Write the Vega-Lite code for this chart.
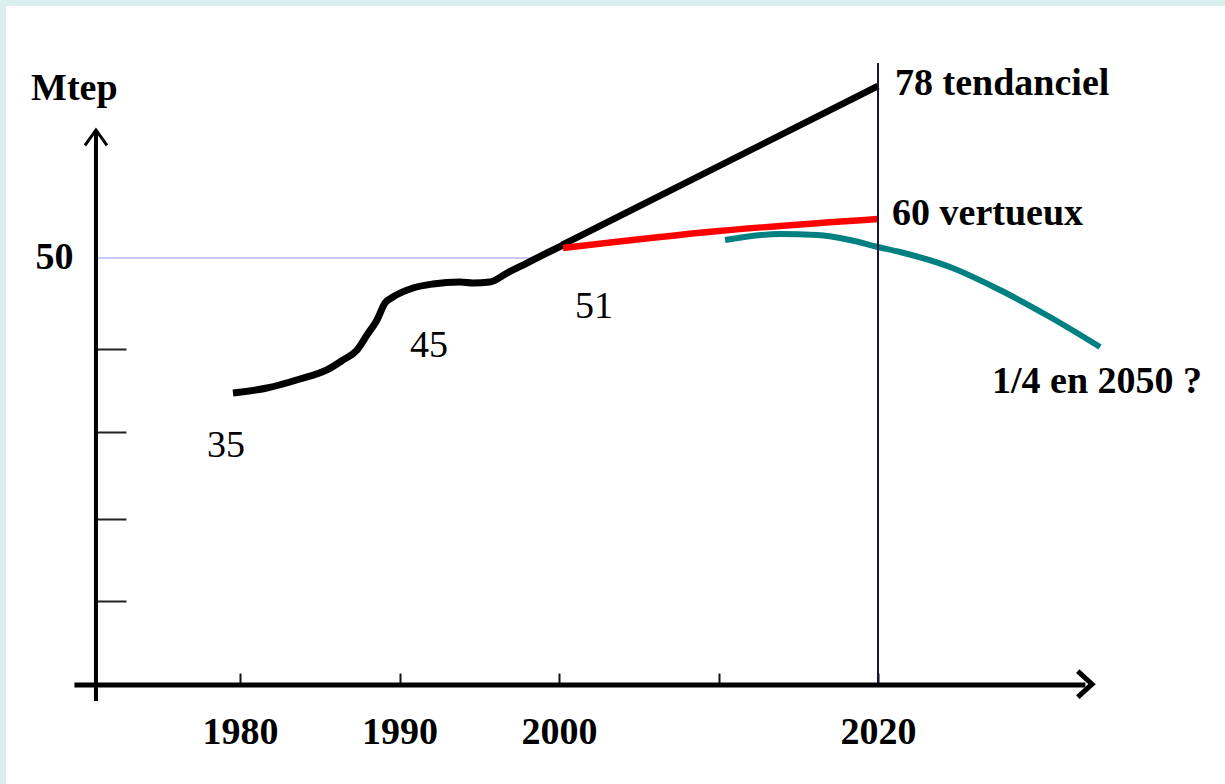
{
  "$schema": "https://vega.github.io/schema/vega-lite/v6.json",
  "width": 1219,
  "height": 778,
  "autosize": {"type": "none"},
  "padding": {"left": 6, "top": 6, "right": 0, "bottom": 0},
  "background": "#d9f0ef",
  "config": {
    "view": {"fill": "white", "stroke": null},
    "axis": {"grid": false, "domain": false}
  },
  "datasets": {
    "courbes": [
      {"serie": "historique", "an": 1979.56, "val": 34.19},
      {"serie": "historique", "an": 1981.69, "val": 34.78},
      {"serie": "historique", "an": 1983.76, "val": 35.83},
      {"serie": "historique", "an": 1985.45, "val": 36.89},
      {"serie": "historique", "an": 1986.46, "val": 38.06},
      {"serie": "historique", "an": 1987.34, "val": 39.23},
      {"serie": "historique", "an": 1987.96, "val": 40.98},
      {"serie": "historique", "an": 1988.59, "val": 42.74},
      {"serie": "historique", "an": 1989.09, "val": 44.73},
      {"serie": "historique", "an": 1989.59, "val": 45.43},
      {"serie": "historique", "an": 1990.85, "val": 46.49},
      {"serie": "historique", "an": 1992.10, "val": 46.96},
      {"serie": "historique", "an": 1993.79, "val": 47.19},
      {"serie": "historique", "an": 1994.61, "val": 47.07},
      {"serie": "historique", "an": 1995.67, "val": 47.19},
      {"serie": "historique", "an": 1996.74, "val": 48.24},
      {"serie": "historique", "an": 1997.99, "val": 49.41},
      {"serie": "historique", "an": 1999.25, "val": 50.59},
      {"serie": "historique", "an": 2000.25, "val": 51.52},
      {"serie": "tendanciel", "an": 2000.19, "val": 51.52},
      {"serie": "tendanciel", "an": 2020.0, "val": 70.14},
      {"serie": "vertueux", "an": 2000.25, "val": 51.17},
      {"serie": "vertueux", "an": 2010.03, "val": 53.16},
      {"serie": "vertueux", "an": 2020.0, "val": 54.57},
      {"serie": "facteur4", "an": 2010.41, "val": 52.11},
      {"serie": "facteur4", "an": 2013.86, "val": 52.81},
      {"serie": "facteur4", "an": 2016.18, "val": 52.69},
      {"serie": "facteur4", "an": 2018.24, "val": 52.11},
      {"serie": "facteur4", "an": 2020.0, "val": 51.29},
      {"serie": "facteur4", "an": 2021.38, "val": 50.70},
      {"serie": "facteur4", "an": 2024.51, "val": 48.95},
      {"serie": "facteur4", "an": 2027.65, "val": 46.25},
      {"serie": "facteur4", "an": 2030.78, "val": 43.09},
      {"serie": "facteur4", "an": 2033.92, "val": 39.58}
    ],
    "repere50": [
      {"an": 1970.97, "val": 50, "an2": 1998.4, "val2": 50}
    ],
    "repere2020": [
      {"an": 2020, "val": 0, "an2": 2020, "val2": 72.83}
    ],
    "axeX": [
      {"an": 1969.62, "val": 0, "an2": 2033.0, "val2": 0}
    ],
    "axeY": [
      {"an": 1970.97, "val": -1.87, "an2": 1970.97, "val2": 64.9}
    ],
    "flecheX": [{"an": 2033.42, "val": 0.1}],
    "flecheY": [{"an": 1970.97, "val": 64.99}],
    "etiquettesGras": [
      {"texte": "Mtep", "an": 1966.90, "val": 68.50},
      {"texte": "78 tendanciel", "an": 2021.07, "val": 69.09},
      {"texte": "60 vertueux", "an": 2020.88, "val": 53.86},
      {"texte": "1/4 en 2050 ?", "an": 2027.15, "val": 34.19}
    ],
    "etiquettes": [
      {"texte": "35", "an": 1977.93, "val": 26.70},
      {"texte": "45", "an": 1990.66, "val": 38.41},
      {"texte": "51", "an": 2001.0, "val": 42.97}
    ]
  },
  "encoding": {
    "x": {
      "field": "an",
      "type": "quantitative",
      "scale": {"domain": [1965.329, 2041.755], "nice": false, "zero": false},
      "axis": {
        "offset": -99,
        "values": [1980, 1990, 2000, 2010, 2020],
        "format": "d",
        "labelExpr": "datum.value == 2010 ? '' : datum.label",
        "tickSize": -12,
        "tickWidth": 2,
        "tickColor": "#111111",
        "labelPadding": 70,
        "labelBaseline": "alphabetic",
        "labelFont": "Liberation Serif",
        "labelFontWeight": "bold",
        "labelFontSize": 38,
        "labelColor": "black",
        "labelFlush": false,
        "labelOverlap": false,
        "title": null
      }
    },
    "y": {
      "field": "val",
      "type": "quantitative",
      "scale": {"domain": [-11.593, 79.508], "nice": false, "zero": false},
      "axis": {
        "offset": -90,
        "values": [9.84, 19.44, 29.63, 39.34, 50],
        "labelExpr": "datum.value == 50 ? '50' : ''",
        "tickSize": -30,
        "tickWidth": 2,
        "tickColor": "#222222",
        "tickOpacity": {"condition": {"test": "datum.value == 50", "value": 0}, "value": 1},
        "labelPadding": 53,
        "labelFont": "Liberation Serif",
        "labelFontWeight": "bold",
        "labelFontSize": 38,
        "labelColor": "black",
        "labelFlush": false,
        "labelOverlap": false,
        "title": null
      }
    }
  },
  "layer": [
    {
      "data": {"name": "repere50"},
      "mark": {"type": "rule", "color": "#c8c8ff", "strokeWidth": 2},
      "encoding": {"x2": {"field": "an2"}, "y2": {"field": "val2"}}
    },
    {
      "data": {"name": "courbes"},
      "mark": {"type": "line", "interpolate": "monotone"},
      "encoding": {
        "detail": {"field": "serie"},
        "color": {
          "field": "serie",
          "type": "nominal",
          "scale": {"domain": ["historique", "tendanciel", "vertueux", "facteur4"], "range": ["#000000", "#000000", "#ff0000", "#008080"]},
          "legend": null
        },
        "strokeWidth": {
          "field": "serie",
          "type": "nominal",
          "scale": {"domain": ["historique", "tendanciel", "vertueux", "facteur4"], "range": [7, 6, 9, 8]},
          "legend": null
        }
      }
    },
    {
      "data": {"name": "repere2020"},
      "mark": {"type": "rule", "color": "#14143c", "strokeWidth": 2},
      "encoding": {"x2": {"field": "an2"}, "y2": {"field": "val2"}}
    },
    {
      "data": {"name": "axeX"},
      "mark": {"type": "rule", "color": "black", "strokeWidth": 5},
      "encoding": {"x2": {"field": "an2"}, "y2": {"field": "val2"}}
    },
    {
      "data": {"name": "axeY"},
      "mark": {"type": "rule", "color": "black", "strokeWidth": 4},
      "encoding": {"x2": {"field": "an2"}, "y2": {"field": "val2"}}
    },
    {
      "data": {"name": "flecheX"},
      "mark": {"type": "point", "shape": "M -1.1 -1 L 0 0 L -1.1 1", "size": 676, "filled": false, "stroke": "black", "strokeWidth": 5, "opacity": 1}
    },
    {
      "data": {"name": "flecheY"},
      "mark": {"type": "point", "shape": "M -1 1.4 L 0 0 L 1 1.4", "size": 484, "filled": false, "stroke": "black", "strokeWidth": 3, "opacity": 1}
    },
    {
      "data": {"name": "etiquettesGras"},
      "mark": {"type": "text", "align": "left", "baseline": "alphabetic", "font": "Liberation Serif", "fontWeight": "bold", "fontSize": 38, "color": "black"},
      "encoding": {"text": {"field": "texte"}}
    },
    {
      "data": {"name": "etiquettes"},
      "mark": {"type": "text", "align": "left", "baseline": "alphabetic", "font": "Liberation Serif", "fontWeight": "normal", "fontSize": 38, "color": "black"},
      "encoding": {"text": {"field": "texte"}}
    }
  ]
}
